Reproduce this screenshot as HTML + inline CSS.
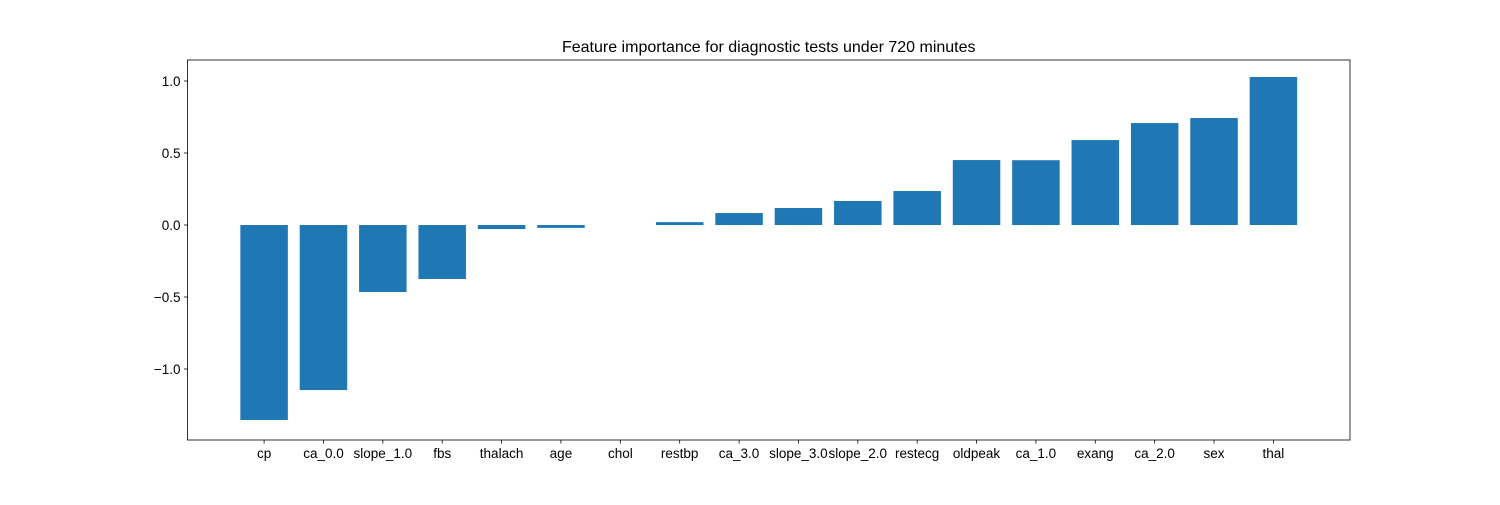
<!DOCTYPE html>
<html><head><meta charset="utf-8"><style>
body{margin:0;background:#fff;font-family:"Liberation Sans","DejaVu Sans",sans-serif}
</style></head><body>
<svg id="chart" width="1500" height="500" xmlns="http://www.w3.org/2000/svg"></svg>
<script>
const categories=["cp","ca_0.0","slope_1.0","fbs","thalach","age","chol","restbp","ca_3.0","slope_3.0","slope_2.0","restecg","oldpeak","ca_1.0","exang","ca_2.0","sex","thal"];
const values=[-1.354,-1.146,-0.465,-0.375,-0.028,-0.02,0.0,0.02,0.083,0.118,0.167,0.236,0.451,0.45,0.59,0.708,0.743,1.028];
const yTicks=[-1.0,-0.5,0.0,0.5,1.0];
const yTickLabels=["\u22121.0","\u22120.5","0.0","0.5","1.0"];
const L=187.5,R=1350,T=60,B=440;
const xmin=-1.29,xmax=18.29,ymin=-1.493,ymax=1.146;
const xs=v=>L+(v-xmin)/(xmax-xmin)*(R-L);
const ys=v=>B-(v-ymin)/(ymax-ymin)*(B-T);
const svg=document.getElementById('chart');
const NS="http://www.w3.org/2000/svg";
function mk(t,a){const e=document.createElementNS(NS,t);for(const k in a)e.setAttribute(k,a[k]);svg.appendChild(e);return e;}
categories.forEach((c,i)=>{
  const v=values[i];const y0=ys(0),y1=ys(v);
  const r=mk('rect',{x:xs(i-0.4),width:xs(i+0.4)-xs(i-0.4),y:Math.min(y0,y1),height:Math.abs(y1-y0),fill:'#1f77b4'});
  
  
  const tk=mk('line',{x1:xs(i),x2:xs(i),y1:B,y2:B+3.5,stroke:'#000','stroke-width':0.8});
  
  
  const t=mk('text',{x:xs(i),y:B+18,'text-anchor':'middle','font-size':13.5});
  t.textContent=c;
  
  
});
yTicks.forEach((v,i)=>{
  const tk=mk('line',{x1:L-3.5,x2:L,y1:ys(v),y2:ys(v),stroke:'#000','stroke-width':0.8});
  
  
  const t=mk('text',{x:L-7,y:ys(v)+5,'text-anchor':'end','font-size':13.5});
  t.textContent=yTickLabels[i];
  
  
});
const f=mk('rect',{x:L,y:T,width:R-L,height:B-T,fill:'none',stroke:'#000','stroke-width':0.8});


const ti=mk('text',{x:(L+R)/2,y:T-8,'text-anchor':'middle','font-size':16});
ti.textContent="Feature importance for diagnostic tests under 720 minutes";


</script>
</body></html>
